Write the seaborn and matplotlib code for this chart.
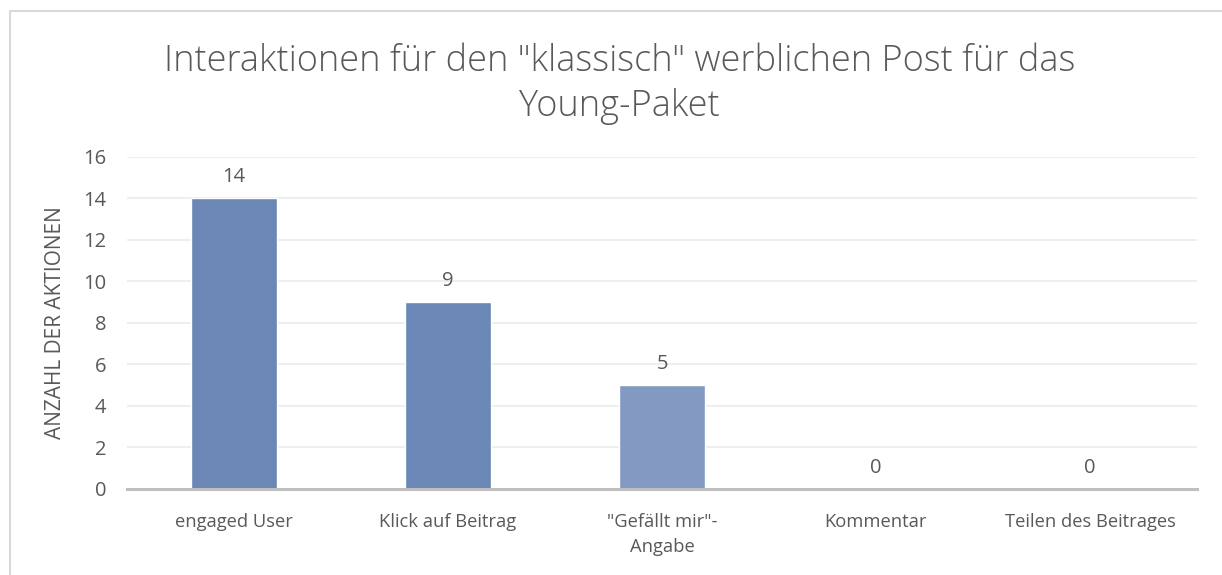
"""
Interaktionen fuer den "klassisch" werblichen Post - Young-Paket
"""

import matplotlib
matplotlib.use("Agg")
import matplotlib.pyplot as plt
from matplotlib.patches import Rectangle
import seaborn as sns

categories = [
    "engaged User",
    "Klick auf Beitrag",
    "\"Gefällt mir\"-\nAngabe",
    "Kommentar",
    "Teilen des Beitrages",
]
values = [14, 9, 5, 0, 0]
bar_colors = ["#6a87b6", "#6a87b6", "#8499c2", "#6a87b6", "#6a87b6"]

title = "Interaktionen für den \"klassisch\" werblichen Post für das\nYoung-Paket"
ylabel = "ANZAHL DER AKTIONEN"
yticks = list(range(0, 17, 2))

TEXT = "#595959"

sns.set_theme(style="white")
plt.rcParams["font.family"] = ["Open Sans", "DejaVu Sans"]

fig = plt.figure(figsize=(12.22, 5.75), dpi=100, facecolor="w")
ax = fig.add_axes([0.104, 0.1496, 0.8755, 0.5774])

sns.barplot(x=categories, y=values, hue=categories, palette=bar_colors,
            legend=False, width=0.4, saturation=1, ax=ax)

for cont in ax.containers:
    ax.bar_label(cont, fmt="%d", padding=8, fontsize=14.5, color=TEXT)

ax.set_ylim(0, 16)
ax.set_yticks(yticks)
ax.set_xlim(-0.5, len(categories) - 0.5)
ax.grid(axis="y", color="#ebebeb", linewidth=1.2)
ax.set_axisbelow(True)
for side in ["top", "right", "left"]:
    ax.spines[side].set_visible(False)
ax.spines["bottom"].set_color("#bfbfbf")
ax.spines["bottom"].set_linewidth(2.2)
ax.tick_params(axis="y", length=0, pad=15, labelsize=14.5, labelcolor=TEXT)
ax.tick_params(axis="x", length=0, pad=17, labelsize=13.2, labelcolor=TEXT)
for lab in ax.get_xticklabels():
    lab.set_linespacing(1.55)

ax.set_ylabel(ylabel, fontsize=15, color=TEXT)
ax.yaxis.set_label_coords(-0.057, 0.5)
ax.set_xlabel("")

fig.text(0.507, 0.854, title, ha="center", va="center", fontsize=26,
         color=TEXT, linespacing=1.3, fontweight="light")

fig.patches.append(Rectangle((0.0082, -0.1), 1.2, 1.081, transform=fig.transFigure,
                             fill=False, edgecolor="#d9d9d9", linewidth=1.5))

fig.savefig("out.png", dpi=100)
